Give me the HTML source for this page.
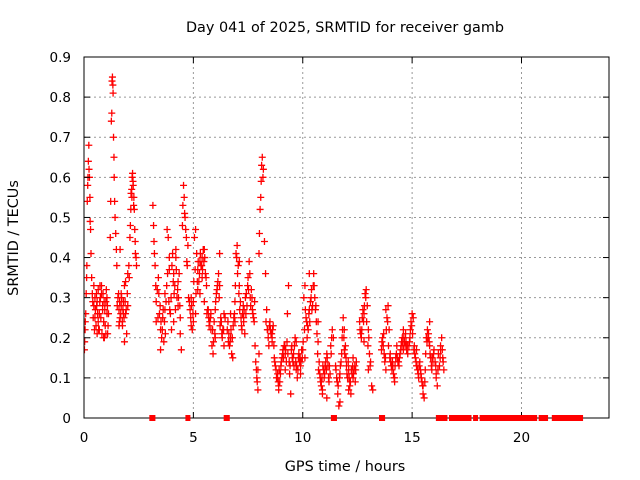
<!DOCTYPE html>
<html><head><meta charset="utf-8"><style>
body{margin:0;background:#fff}
svg{display:block;font-family:"DejaVu Sans","Liberation Sans",sans-serif}
</style></head><body>
<svg id="chart" width="640" height="480">
<text x="345" y="32" text-anchor="middle" font-size="14.4">Day 041 of 2025, SRMTID for receiver gamb</text>
<text x="345" y="471" text-anchor="middle" font-size="14.4">GPS time / hours</text>
<text transform="translate(18,238) rotate(-90)" text-anchor="middle" font-size="14.4">SRMTID / TECUs</text>
<g id="grid"></g><g id="marks"></g><g id="axes"></g><g id="zeros"></g>
</svg>
<script>
const xTicks=[0,5,10,15,20];
const yTicks=[0,0.1,0.2,0.3,0.4,0.5,0.6,0.7,0.8,0.9];
const yTickLabels=["0","0.1","0.2","0.3","0.4","0.5","0.6","0.7","0.8","0.9"];
const times=[0.02,0.03,0.05,0.06,0.08,0.1,0.12,0.13,0.15,0.17,0.18,0.2,0.22,0.23,0.25,0.27,0.28,0.3,0.32,0.35,
0.4,0.45,0.5,0.55,0.6,0.65,0.7,0.75,0.8,0.85,0.9,0.95,1.0,1.05,1.1,0.5,0.6,0.7,0.8,0.9,1.0,0.45,0.65,0.85,1.05,
1.2,1.22,1.25,1.27,1.28,1.3,1.32,1.33,1.35,1.37,1.38,1.4,1.42,1.45,1.48,1.5,
1.55,1.6,1.65,1.7,1.75,1.8,1.85,1.9,1.95,2.0,1.6,1.7,1.8,1.9,2.0,1.65,1.85,
2.05,2.1,2.12,2.15,2.18,2.2,2.22,2.25,2.28,2.3,2.32,2.35,2.38,2.4,
3.15,3.18,3.2,3.25,3.3,3.35,3.4,3.45,3.5,3.55,3.6,3.65,3.7,3.75,3.8,3.85,3.9,3.95,4.0,3.3,3.5,3.7,3.9,
4.05,4.1,4.15,4.2,4.25,4.3,4.35,4.4,4.45,4.1,4.2,4.3,4.4,
4.5,4.52,4.55,4.58,4.6,4.62,4.65,4.68,4.7,4.72,4.75,4.78,
4.85,4.9,4.95,5.0,5.05,5.1,5.15,5.2,5.25,5.3,5.35,5.4,5.45,5.5,5.55,5.6,4.9,5.0,5.1,5.2,5.3,5.4,5.5,
5.65,5.7,5.75,5.8,5.85,5.9,5.95,6.0,6.05,6.1,6.15,6.2,6.25,6.3,6.35,6.4,6.45,5.8,6.0,6.2,6.4,
6.55,6.6,6.65,6.7,6.75,6.8,6.85,6.9,6.95,7.0,7.05,7.1,7.15,7.2,7.25,7.3,7.35,7.4,7.45,6.7,6.9,7.1,7.3,
7.5,7.55,7.6,7.65,7.7,7.75,7.8,7.85,7.9,7.95,8.0,8.05,8.1,8.15,8.2,8.25,8.3,7.95,8.0,
8.35,8.4,8.45,8.5,8.55,8.6,8.65,8.7,8.75,8.8,8.85,8.9,8.95,9.0,9.05,9.1,9.15,9.2,9.25,9.3,9.35,9.4,9.45,8.6,8.9,9.2,
9.5,9.55,9.6,9.65,9.7,9.75,9.8,9.85,9.9,9.95,10.0,10.05,10.1,10.15,10.2,10.25,10.3,10.35,10.4,10.45,9.7,9.9,10.1,10.3,
10.5,10.55,10.6,10.65,10.7,10.75,10.8,10.85,10.9,10.95,11.0,11.05,11.1,11.15,11.2,11.25,11.3,11.35,11.4,10.7,10.9,11.1,
11.5,11.55,11.6,11.65,11.7,11.75,11.8,11.85,11.9,11.95,12.0,12.05,12.1,12.15,12.2,12.25,12.3,12.35,12.4,12.45,11.7,11.9,12.1,12.3,
12.6,12.65,12.7,12.75,12.8,12.85,12.9,12.95,13.0,13.05,13.1,13.15,13.2,12.8,13.0,
13.6,13.65,13.7,13.75,13.8,13.85,13.9,13.95,14.0,14.05,14.1,14.15,14.2,14.25,14.3,14.35,14.4,14.45,14.5,14.55,14.6,14.65,14.7,14.75,14.8,13.8,14.2,14.6,
14.85,14.9,14.95,15.0,15.05,15.1,15.15,15.2,15.25,15.3,15.35,15.4,15.45,15.5,15.55,15.6,15.65,15.7,15.75,15.8,15.85,15.9,15.95,16.0,15.2,15.5,15.8,
16.05,16.1,16.15,16.2,16.25,16.3,16.35,16.4,16.45,16.1,16.3];
const values=[0.17,0.19,0.22,0.24,0.26,0.31,0.35,0.38,0.54,0.58,0.60,0.64,0.68,0.62,0.60,0.55,0.49,0.47,0.41,0.35,
0.29,0.28,0.30,0.23,0.21,0.32,0.26,0.30,0.33,0.28,0.24,0.27,0.21,0.26,0.23,0.25,0.29,0.22,0.31,0.2,0.29,0.33,0.24,0.27,0.3,
0.45,0.54,0.74,0.76,0.84,0.85,0.83,0.81,0.70,0.65,0.60,0.54,0.50,0.46,0.42,0.38,
0.30,0.27,0.25,0.28,0.24,0.29,0.33,0.26,0.21,0.36,0.23,0.31,0.26,0.34,0.28,0.42,0.19,
0.38,0.45,0.48,0.56,0.57,0.60,0.61,0.58,0.55,0.52,0.47,0.41,0.40,0.38,
0.53,0.48,0.44,0.38,0.29,0.32,0.35,0.26,0.22,0.20,0.25,0.19,0.27,0.29,0.47,0.45,0.40,0.26,0.22,0.24,0.17,0.31,0.37,
0.41,0.36,0.33,0.40,0.30,0.28,0.36,0.21,0.17,0.24,0.42,0.34,0.25,
0.48,0.53,0.58,0.55,0.51,0.50,0.47,0.45,0.39,0.38,0.43,0.30,
0.27,0.23,0.22,0.29,0.45,0.47,0.41,0.37,0.34,0.31,0.38,0.40,0.42,0.42,0.36,0.33,0.30,0.24,0.26,0.32,0.39,0.35,0.29,
0.27,0.25,0.24,0.26,0.18,0.16,0.24,0.27,0.31,0.33,0.36,0.41,0.25,0.21,0.22,0.26,0.25,0.22,0.20,0.33,0.18,
0.22,0.19,0.18,0.20,0.16,0.15,0.25,0.29,0.41,0.43,0.38,0.33,0.29,0.23,0.26,0.24,0.21,0.26,0.28,0.26,0.24,0.39,0.25,
0.35,0.39,0.30,0.32,0.27,0.25,0.29,0.14,0.10,0.07,0.41,0.52,0.59,0.65,0.62,0.44,0.36,0.12,0.16,
0.27,0.22,0.18,0.24,0.21,0.20,0.23,0.15,0.13,0.10,0.11,0.08,0.09,0.13,0.15,0.17,0.18,0.16,0.14,0.26,0.33,0.11,0.06,0.19,0.07,0.12,
0.18,0.14,0.13,0.20,0.12,0.10,0.15,0.14,0.13,0.17,0.17,0.30,0.33,0.25,0.20,0.22,0.27,0.29,0.32,0.28,0.19,0.11,0.15,0.36,
0.36,0.30,0.28,0.21,0.24,0.14,0.10,0.08,0.07,0.12,0.11,0.14,0.16,0.13,0.09,0.11,0.16,0.22,0.20,0.19,0.06,0.05,
0.13,0.10,0.06,0.03,0.11,0.14,0.20,0.25,0.22,0.18,0.13,0.10,0.12,0.08,0.06,0.11,0.15,0.12,0.09,0.14,0.04,0.17,0.07,0.10,
0.24,0.21,0.22,0.27,0.26,0.31,0.32,0.28,0.22,0.16,0.14,0.08,0.07,0.19,0.12,
0.17,0.20,0.21,0.14,0.12,0.25,0.28,0.22,0.16,0.13,0.14,0.11,0.09,0.15,0.18,0.14,0.13,0.16,0.18,0.20,0.17,0.19,0.21,0.17,0.16,0.27,0.10,0.22,
0.18,0.20,0.24,0.26,0.25,0.18,0.15,0.13,0.12,0.10,0.14,0.11,0.09,0.06,0.05,0.12,0.20,0.22,0.21,0.18,0.15,0.12,0.14,0.17,0.17,0.08,0.24,
0.14,0.11,0.08,0.16,0.13,0.17,0.20,0.15,0.12,0.10,0.18];
const times2=[0.38,0.42,0.48,0.52,0.57,0.62,0.67,0.72,0.77,0.82,0.87,0.92,0.97,1.02,1.07,1.12,0.73,0.93,0.58,1.08,
1.52,1.58,1.63,1.68,1.72,1.78,1.83,1.88,1.93,1.98,1.62,1.76,
2.07,2.14,2.19,2.24,2.27,2.34,
3.22,3.28,3.38,3.42,3.48,3.52,3.58,3.62,3.68,3.72,3.78,3.82,3.88,3.92,3.98,4.02,4.08,4.12,4.18,4.22,4.28,4.32,4.38,
4.82,4.88,4.92,4.98,5.02,5.08,5.12,5.18,5.22,5.28,5.32,5.38,5.42,5.48,5.52,5.58,
5.62,5.68,5.72,5.78,5.88,5.92,5.98,6.02,6.08,6.12,6.18,6.22,6.28,6.32,6.38,
6.58,6.62,6.68,6.72,6.78,6.82,6.88,6.92,6.98,7.02,7.08,7.12,7.18,7.22,7.28,7.32,7.38,7.42,7.48,
7.52,7.58,7.62,7.68,7.72,7.78,7.82,7.88,7.92,8.02,8.08,8.12,8.18,
8.32,8.38,8.42,8.48,8.52,8.58,8.62,8.68,8.72,8.78,8.82,8.88,8.92,8.98,9.02,9.08,9.12,9.18,9.22,9.28,9.32,9.38,9.42,9.48,
9.52,9.58,9.62,9.68,9.72,9.78,9.82,9.88,9.92,9.98,10.02,10.08,10.12,10.18,10.22,10.28,10.32,10.38,10.42,10.48,
10.52,10.58,10.62,10.68,10.72,10.78,10.82,10.88,10.92,10.98,11.02,11.08,11.12,11.18,11.22,11.28,11.32,
11.52,11.58,11.62,11.68,11.72,11.78,11.82,11.88,11.92,11.98,12.02,12.08,12.12,12.18,12.22,12.28,12.32,12.38,12.42,
12.62,12.68,12.72,12.78,12.82,12.88,12.92,12.98,13.02,13.08,
13.62,13.68,13.72,13.78,13.82,13.88,13.92,13.98,14.02,14.08,14.12,14.18,14.22,14.28,14.32,14.38,14.42,14.48,14.52,14.58,14.62,14.68,14.72,14.78,
14.88,14.92,14.98,15.02,15.08,15.12,15.18,15.22,15.28,15.32,15.38,15.42,15.48,15.58,15.62,15.68,15.72,15.78,15.82,15.88,15.92,15.98,16.08,16.18,16.28,16.38,16.42];
const values2=[0.31,0.25,0.22,0.27,0.31,0.26,0.22,0.29,0.25,0.21,0.31,0.29,0.23,0.32,0.28,0.26,0.33,0.20,0.28,0.21,
0.28,0.31,0.29,0.26,0.30,0.27,0.25,0.29,0.27,0.31,0.24,0.23,
0.35,0.52,0.55,0.59,0.53,0.44,
0.41,0.33,0.25,0.31,0.28,0.24,0.22,0.27,0.24,0.21,0.33,0.36,0.29,0.27,0.30,0.38,0.34,0.31,0.27,0.37,0.32,0.30,0.28,
0.29,0.25,0.28,0.26,0.34,0.37,0.31,0.34,0.39,0.36,0.41,0.38,0.37,0.39,0.40,0.35,
0.26,0.27,0.23,0.25,0.22,0.19,0.21,0.29,0.32,0.34,0.30,0.23,0.24,0.20,0.22,
0.24,0.21,0.19,0.22,0.20,0.23,0.26,0.33,0.40,0.36,0.31,0.27,0.25,0.22,0.28,0.27,0.30,0.31,0.33,
0.32,0.36,0.28,0.30,0.26,0.24,0.18,0.12,0.09,0.46,0.55,0.63,0.60,
0.24,0.22,0.20,0.23,0.22,0.21,0.22,0.18,0.14,0.12,0.10,0.09,0.12,0.11,0.14,0.16,0.15,0.18,0.17,0.19,0.16,0.14,0.13,0.17,
0.15,0.16,0.18,0.14,0.13,0.12,0.16,0.15,0.14,0.15,0.19,0.22,0.27,0.24,0.23,0.26,0.24,0.30,0.27,0.33,
0.33,0.27,0.24,0.16,0.12,0.11,0.09,0.10,0.13,0.10,0.13,0.12,0.15,0.10,0.13,0.18,0.20,
0.12,0.09,0.08,0.10,0.13,0.16,0.22,0.20,0.16,0.15,0.11,0.14,0.10,0.09,0.12,0.13,0.11,0.13,0.12,
0.22,0.20,0.25,0.24,0.28,0.30,0.24,0.18,0.20,0.13,
0.19,0.18,0.16,0.15,0.22,0.24,0.18,0.15,0.14,0.12,0.13,0.10,0.13,0.16,0.15,0.14,0.15,0.17,0.19,0.18,0.20,0.18,0.19,0.18,
0.19,0.22,0.23,0.21,0.17,0.16,0.14,0.13,0.11,0.13,0.12,0.10,0.08,0.09,0.16,0.19,0.20,0.19,0.16,0.13,0.15,0.16,0.13,0.12,0.15,0.17,0.14];
const zeroTimes=[3.1,3.15,4.75,6.5,6.55,11.4,11.45,13.6,13.65,16.2,16.3,16.5,16.8,17.0,17.2,17.4,17.6,17.9,18.2,18.4,18.5,18.7,18.9,19.1,19.3,19.5,19.7,19.9,20.0,20.2,20.4,20.6,20.9,21.1,21.5,21.7,21.9,22.1,22.3,22.5,22.7];
const L=84,R=609,T=57,B=418,XMAX=24,YMAX=0.9;
function xs(v){return L+v/XMAX*(R-L);}
function ys(v){return B-v/YMAX*(B-T);}
const NS="http://www.w3.org/2000/svg";
function mk(tag,attrs,parent){const e=document.createElementNS(NS,tag);for(const k in attrs)e.setAttribute(k,attrs[k]);parent.appendChild(e);return e;}
const grid=document.getElementById('grid'),marks=document.getElementById('marks'),axes=document.getElementById('axes'),zeros=document.getElementById('zeros');
xTicks.forEach((t,i)=>{
  const x=xs(t);
  if(t>0){const g=mk('line',{x1:x,x2:x,y1:T,y2:B,stroke:'#999','stroke-dasharray':'2,3'},grid);
  
  }
  const a=mk('line',{x1:x,x2:x,y1:B,y2:B-6,stroke:'#000'},axes);
  
  
  const b=mk('line',{x1:x,x2:x,y1:T,y2:T+6,stroke:'#000'},axes);
  
  
  const tx=mk('text',{x:x,y:B+24,'text-anchor':'middle','font-size':'13.5'},axes);
  tx.textContent=String(t);
  
  
});
yTicks.forEach((t,i)=>{
  const y=ys(t);
  if(t>0&&t<YMAX-1e-9){const g=mk('line',{x1:L,x2:R,y1:y,y2:y,stroke:'#999','stroke-dasharray':'2,3'},grid);
  
  }
  const a=mk('line',{x1:L,x2:L+6,y1:y,y2:y,stroke:'#000'},axes);
  
  
  const b=mk('line',{x1:R,x2:R-6,y1:y,y2:y,stroke:'#000'},axes);
  
  
  const tx=mk('text',{x:L-13,y:y+5,'text-anchor':'end','font-size':'13.5'},axes);
  tx.textContent=yTickLabels[i];
  
  
});
const frame=mk('rect',{x:L,y:T,width:R-L,height:B-T,fill:'none',stroke:'#000'},axes);


mk('clipPath',{id:'clip'},marks);
mk('rect',{x:L,y:T,width:R-L,height:B-T},marks.lastChild);
marks.setAttribute('clip-path','url(#clip)');
function cross(tArr,vArr,h){
  let d='';
  for(let i=0;i<tArr.length;i++){
    const x=xs(tArr[i]),y=ys(vArr[i]);
    d+='M'+(x-h)+' '+y+'h'+(2*h)+'M'+x+' '+(y-h)+'v'+(2*h);
  }
  return d;
}
const p=mk('path',{d:cross(times,values,3.5),stroke:'#ff0000','stroke-width':'1.3',fill:'none'},marks);


const p2=mk('path',{d:cross(times2,values2,3.5),stroke:'#ff0000','stroke-width':'1.3',fill:'none'},marks);


let dz='';
for(let i=0;i<zeroTimes.length;i++){
  const x=xs(zeroTimes[i]);
  dz+='M'+(x-2.5)+' '+(B-3)+'h5v6h-5z';
}
const pz=mk('path',{d:dz,fill:'#ff0000',stroke:'none'},zeros);


</script>
</body></html>
